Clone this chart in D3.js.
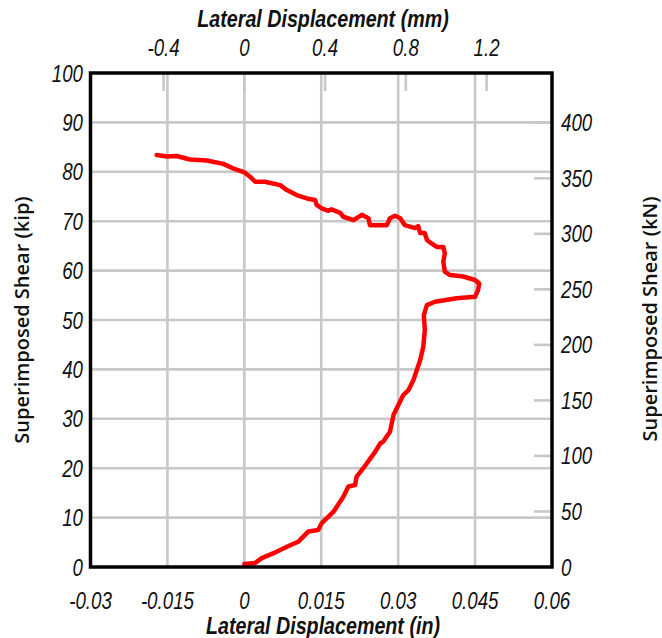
<!DOCTYPE html>
<html>
<head>
<meta charset="utf-8">
<script src="https://cdn.jsdelivr.net/npm/d3@7"></script>
<style>
  html, body { margin: 0; padding: 0; background: #fff; }
  .tick-label { font-family: "Liberation Sans", Arial, sans-serif; font-style: italic; font-size: 24px; fill: #111; }
  .x-title { font-family: "Liberation Sans", Arial, sans-serif; font-style: italic; font-weight: bold; font-size: 24px; fill: #111; }
  .y-title { font-family: "Open Sans", "Noto Sans", sans-serif; font-weight: 600; font-size: 20px; fill: #111; }
</style>
</head>
<body>
<svg id="chart" width="662" height="638"></svg>
<script>
// ---- Data ----
const dispIn = [0.0000, 0.0021, 0.0034, 0.0057, 0.0083, 0.0105, 0.0125, 0.0144, 0.0151, 0.0174,
  0.0193, 0.0203, 0.0216, 0.0219, 0.0232, 0.0255, 0.0265, 0.0271, 0.0284, 0.0291,
  0.0297, 0.0310, 0.0320, 0.0330, 0.0343, 0.0349, 0.0352, 0.0350, 0.0356, 0.0372,
  0.0414, 0.0450, 0.0456, 0.0458, 0.0450, 0.0427, 0.0401, 0.0391, 0.0388, 0.0391,
  0.0388, 0.0375, 0.0365, 0.0356, 0.0352, 0.0343, 0.0339, 0.0333, 0.0323, 0.0313,
  0.0304, 0.0294, 0.0284, 0.0278, 0.0245, 0.0242, 0.0229, 0.0213, 0.0193, 0.0187,
  0.0170, 0.0164, 0.0151, 0.0141, 0.0138, 0.0122, 0.0102, 0.0083, 0.0070, 0.0040,
  0.0021, 0.0011, 0.0000, -0.0022, -0.0041, -0.0073, -0.0106, -0.0132, -0.0151, -0.0171];
const shearKip = [0.6, 0.8, 1.8, 2.8, 4.1, 5.1, 7.2, 7.5, 8.9, 11.2,
  14.2, 16.3, 16.6, 18.3, 20.0, 23.3, 25.0, 25.4, 27.4, 30.8,
  32.1, 34.8, 35.8, 37.9, 41.9, 44.6, 48.0, 51.0, 53.0, 53.7,
  54.4, 54.7, 56.1, 57.4, 58.1, 58.8, 59.1, 59.8, 61.8, 63.5,
  64.8, 64.8, 65.5, 66.2, 67.6, 67.6, 69.0, 68.6, 68.9, 69.2,
  70.6, 71.1, 70.6, 69.2, 69.2, 70.6, 71.3, 70.2, 70.9, 71.7,
  72.4, 72.1, 72.6, 73.3, 74.3, 74.6, 75.3, 76.3, 77.3, 78.0,
  78.0, 79.0, 79.9, 80.7, 81.6, 82.3, 82.5, 83.2, 83.1, 83.4];

const xTicksIn = [-0.03, -0.015, 0, 0.015, 0.03, 0.045, 0.06];
const xTickLabelsIn = ["-0.03", "-0.015", "0", "0.015", "0.03", "0.045", "0.06"];
const xTicksMm = [-0.4, 0, 0.4, 0.8, 1.2];
const xTickLabelsMm = ["-0.4", "0", "0.4", "0.8", "1.2"];
const yTicksKip = [0, 10, 20, 30, 40, 50, 60, 70, 80, 90, 100];
const yTicksKN = [0, 50, 100, 150, 200, 250, 300, 350, 400];

const MM_PER_IN = 25.4;
const KN_PER_KIP = 4.448;

// ---- Layout ----
const svg = d3.select("#chart");
const L = 90.5, R = 552, T = 73, B = 567;
const SX = 0.78; // horizontal condensing of the narrow italic font

const x = d3.scaleLinear().domain([-0.03, 0.06]).range([L, R]);
const y = d3.scaleLinear().domain([0, 100]).range([B, T]);
const xMm = d3.scaleLinear().domain([-0.03 * MM_PER_IN, 0.06 * MM_PER_IN]).range([L, R]);
const yKN = d3.scaleLinear().domain([0, 100 * KN_PER_KIP]).range([B, T]);

const grid = "#c8c8c8";

// Full grid lines (inch / kip)
svg.append("g").selectAll("line").data(xTicksIn.filter(d => d > -0.03 && d < 0.06)).join("line")
  .attr("x1", d => x(d)).attr("x2", d => x(d)).attr("y1", T).attr("y2", B)
  .attr("stroke", grid).attr("stroke-width", 2.6);
svg.append("g").selectAll("line").data(yTicksKip.filter(d => d > 0 && d < 100)).join("line")
  .attr("y1", d => y(d)).attr("y2", d => y(d)).attr("x1", L).attr("x2", R)
  .attr("stroke", grid).attr("stroke-width", 2.6);

// mm stubs at top
svg.append("g").selectAll("line").data(xTicksMm).join("line")
  .attr("x1", d => xMm(d)).attr("x2", d => xMm(d)).attr("y1", T).attr("y2", T + 18)
  .attr("stroke", grid).attr("stroke-width", 2.6);
// kN stubs at right
svg.append("g").selectAll("line").data(yTicksKN.filter(d => d > 0)).join("line")
  .attr("y1", d => yKN(d)).attr("y2", d => yKN(d)).attr("x1", R - 18).attr("x2", R)
  .attr("stroke", grid).attr("stroke-width", 2.6);

// Data line
const line = d3.line().x(d => x(d[0])).y(d => y(d[1]));
svg.append("path")
  .datum(dispIn.map((d, i) => [d, shearKip[i]]))
  .attr("d", line)
  .attr("fill", "none").attr("stroke", "#ff0000").attr("stroke-width", 4.5)
  .attr("stroke-linejoin", "round").attr("stroke-linecap", "round");

// Frame
svg.append("rect").attr("x", L).attr("y", T).attr("width", R - L).attr("height", B - T)
  .attr("fill", "none").attr("stroke", "#000").attr("stroke-width", 3.5);

function narrowText(g, cls, px, py, anchor, str, sx) {
  g.append("text").attr("class", cls)
    .attr("transform", `translate(${px},${py}) scale(${sx || SX},1)`)
    .attr("text-anchor", anchor).text(str);
}

// Tick labels
const gl = svg.append("g");
xTicksIn.forEach((d, i) => narrowText(gl, "tick-label", x(d), 609, "middle", xTickLabelsIn[i]));
xTicksMm.forEach((d, i) => narrowText(gl, "tick-label", xMm(d), 56, "middle", xTickLabelsMm[i]));
yTicksKip.forEach(d => narrowText(gl, "tick-label", 83, y(d) + 8.5, "end", String(d)));
yTicksKN.forEach(d => narrowText(gl, "tick-label", 561, yKN(d) + 8.5, "start", String(d)));

// Titles
narrowText(svg, "x-title", 323, 27, "middle", "Lateral Displacement (mm)", 0.82);
narrowText(svg, "x-title", 323, 634, "middle", "Lateral Displacement (in)", 0.82);
svg.append("text").attr("class", "y-title")
  .attr("transform", "translate(29,320) rotate(-90)")
  .attr("text-anchor", "middle").text("Superimposed Shear (kip)");
svg.append("text").attr("class", "y-title")
  .attr("transform", "translate(657,319) rotate(-90)")
  .attr("text-anchor", "middle").text("Superimposed Shear (kN)");
</script>
</body>
</html>
